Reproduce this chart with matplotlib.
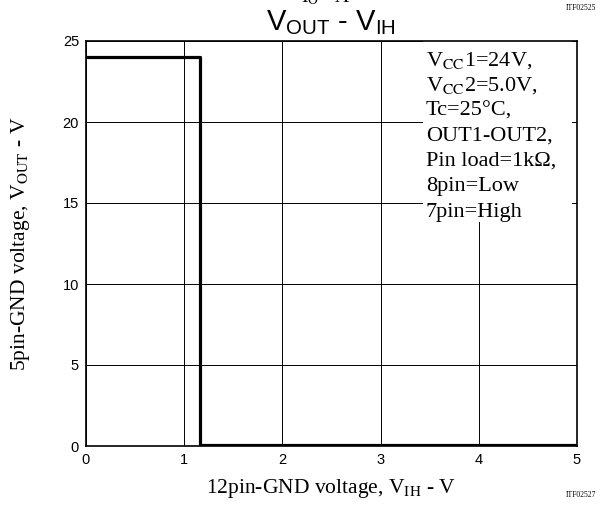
import matplotlib
matplotlib.use("Agg")
import matplotlib.pyplot as plt
from matplotlib.patches import Rectangle

plt.rcParams["mathtext.fontset"] = "custom"
plt.rcParams["mathtext.rm"] = "Liberation Sans"
plt.rcParams["mathtext.it"] = "Liberation Sans"

# V_IH sweep (V) and resulting V_OUT (V)
vih = [0.0, 1.16, 1.16, 5.0]
vout = [24.0, 24.0, 0.08, 0.08]

x_ticks = [0, 1, 2, 3, 4, 5]
y_ticks = [0, 5, 10, 15, 20, 25]
note_lines = [
    r"V$_\mathrm{CC}$1=24V,",
    r"V$_\mathrm{CC}$2=5.0V,",
    "Tc=25°C,",
    "OUT1-OUT2,",
    "Pin load=1kΩ,",
    "8pin=Low",
    "7pin=High",
]

SERIF = "Liberation Serif"
SANS = "Liberation Sans"

fig = plt.figure(figsize=(6.04, 5.05), dpi=100)
ax = fig.add_axes([86 / 604, 1 - 446 / 505, 491 / 604, 405 / 505])

ax.plot(vih, vout, color="black", linewidth=2.3, solid_joinstyle="round", zorder=3)

ax.set_xlim(0, 5)
ax.set_ylim(0, 25)
ax.set_xticks(x_ticks)
ax.set_yticks(y_ticks)
ax.tick_params(length=0, pad=5, labelsize=10.5)
for lab in ax.get_xticklabels() + ax.get_yticklabels():
    lab.set_fontfamily(SANS)
ax.grid(True, color="black", linewidth=0.7)
ax.set_axisbelow(True)
for sp in ax.spines.values():
    sp.set_linewidth(1.2)

# white note box hiding the grid behind the conditions text
ax.add_patch(Rectangle((3.43, 13.8), 1.52, 11.2, facecolor="white",
                       edgecolor="none", zorder=1.5))
y0 = 23.8
for i, line in enumerate(note_lines):
    ax.text(3.46, y0 - i * 1.56, line, fontsize=16, family=SERIF,
            math_fontfamily="stix", va="center", ha="left", zorder=4)

ax.set_xlabel(r"12pin-GND voltage, V$_\mathrm{IH}$ - V", fontsize=15.5,
              family=SERIF, math_fontfamily="stix", labelpad=7)
ax.set_ylabel(r"5pin-GND voltage, V$_\mathrm{OUT}$ - V", fontsize=15.5,
              family=SERIF, math_fontfamily="stix", labelpad=22)

fig.text(331 / 604, 1 - 23 / 505, r"V$_\mathrm{OUT}$ - V$_\mathrm{IH}$",
         fontsize=21, family=SANS, ha="center", va="center")
fig.text(326 / 604, 1 - 2 / 505, r"I$_\mathrm{O}$ - A", fontsize=14,
         family=SERIF, math_fontfamily="stix", ha="center", va="baseline")
fig.text(596 / 604, 1 - 10 / 505, "ITF02525", fontsize=5.5, family=SERIF,
         ha="right", va="baseline")
fig.text(596 / 604, 1 - 497 / 505, "ITF02527", fontsize=5.5, family=SERIF,
         ha="right", va="baseline")

fig.savefig("out.png", dpi=100)
